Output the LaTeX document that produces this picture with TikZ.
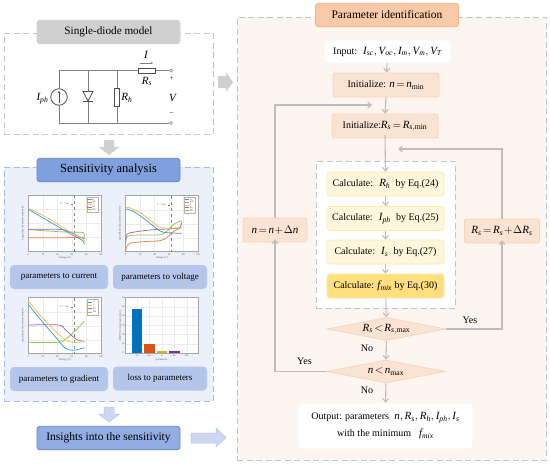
\documentclass[tikz,border=0pt]{standalone}
\usepackage{fontspec}
\setmainfont{Liberation Serif}
\usetikzlibrary{arrows.meta,shapes.geometric,calc}
\definecolor{graybox}{HTML}{D0D0D0}
\definecolor{graydash}{HTML}{C4C4C4}
\definecolor{wire}{HTML}{7F7F7F}
\definecolor{bluehead}{HTML}{7F9FDD}
\definecolor{blueedge}{HTML}{5F86D0}
\definecolor{bluepanel}{HTML}{EBF0FA}
\definecolor{bluedash}{HTML}{A3BCE6}
\definecolor{bluelabel}{HTML}{B4C6E9}
\definecolor{bluearrow}{HTML}{CBD8F0}
\definecolor{orpanel}{HTML}{FDF5EF}
\definecolor{orhead}{HTML}{F8CBA8}
\definecolor{oredge}{HTML}{F4B183}
\definecolor{orbox}{HTML}{FBE3D3}
\definecolor{oredgel}{HTML}{F8D3B8}
\definecolor{yelbox}{HTML}{FFF6DC}
\definecolor{yeledge}{HTML}{FFE9A8}
\definecolor{yelstrong}{HTML}{FFDF7E}
\definecolor{link}{HTML}{BDBDBD}
\definecolor{cIs}{HTML}{3E9BD8}
\definecolor{cIph}{HTML}{E9824C}
\definecolor{cn}{HTML}{F4C04C}
\definecolor{cRs}{HTML}{A565B5}
\definecolor{cRh}{HTML}{8DC453}
\definecolor{bIs}{HTML}{0072BD}
\definecolor{bIph}{HTML}{D95319}
\definecolor{bn}{HTML}{E5A823}
\definecolor{bRs}{HTML}{7E2F8E}
\newcommand\fs[1]{\fontsize{#1}{#1}\selectfont}
\newcommand\mm[1]{{\fs{11}\thickmuskip=2.5mu\medmuskip=1mu$#1$}}
\newcommand\vs[2]{\mathit{#1}_{\mathit{#2}}}
\tikzset{
  titlebox/.style={draw=#1,rounded corners=3pt,line width=.8pt,minimum width=143pt,minimum height=23.5pt,inner sep=0pt,font=\fs{11.5}},
  sublabel/.style={fill=bluelabel,rounded corners=4pt,minimum height=24pt,inner sep=0pt,font=\fs{9}},
  flowbox/.style={fill=orbox,draw=oredgel,line width=.7pt,rounded corners=2pt,minimum height=24pt,inner sep=0pt,font=\fs{10}},
  calcbox/.style={fill=yelbox,draw=yeledge,line width=.7pt,rounded corners=3pt,minimum width=117pt,minimum height=24pt,inner sep=0pt,font=\fs{10}},
  whitebox/.style={fill=white,draw=orpanel!70!gray!20,line width=.6pt,rounded corners=4pt,inner sep=0pt,font=\fs{10}},
  testbox/.style={diamond,shape aspect=5.2,fill=orbox,draw=oredgel,line width=.7pt,minimum width=119pt,minimum height=23pt,inner sep=0pt,font=\fs{10}},
  linkline/.style={draw=link,line width=1.1pt,-{Straight Barb[length=3.5pt,width=6pt]}},
  wireline/.style={draw=wire,line width=.8pt},
  panel/.style={dash pattern=on 6pt off 3.5pt,line width=.8pt},
  lab/.style={inner sep=0pt,font=\fs{10}},
  tinytxt/.style={inner sep=0pt,font=\fs{2.6},text=black!65},
  axisbox/.style={draw=black!35,line width=.35pt},
  gridline/.style={draw=black!8,line width=.25pt},
  vline/.style={draw=black!50,line width=.3pt,dashed},
  curve/.style={draw=#1,line width=.75pt,smooth,line cap=round},
  legendbox/.style={draw=black!30,fill=white,line width=.25pt},
}
% grid, axes and marker of a plot, in 3x crop coordinates
\newcommand\axesbox[5]{% x0 y0 x1 y1 dash-x
  \foreach \i in {1,2,3,4}{
    \draw[gridline] ({#1+\i*(#3-#1)/5},#2) -- ({#1+\i*(#3-#1)/5},#4);
    \draw[gridline] (#1,{#2+\i*(#4-#2)/4}) -- (#3,{#2+\i*(#4-#2)/4});
  }
  \draw[axisbox] (#1,#2) rectangle (#3,#4);
  \draw[vline] (#5,#2) -- (#5,#4);
  \node[tinytxt,rotate=90] at ({#1-17},{(#2+#4)/2}) {Logarithm of absolute sensitivity};
  \node[tinytxt] at ({(#1+#3)/2},{#4+19}) {Voltage (V)};
  \foreach \v/\k in {0/0,20/1,40/2,60/3,80/4,100/5}
    \node[tinytxt] at ({#1+\k*(#3-#1)/5},{#4+8}) {\v};
  \node[tinytxt] at ({#5-30},{#2+27}) {V = Vop};
  \draw[draw=black!50,line width=.25pt] ({#5-10},{#2+27}) -- ({#5-5},{#2+27});
}
\newcommand\legendentry[4]{% x y colour label
  \draw[draw=#3,line width=.7pt] (#1,#2) -- ({#1+13},#2);
  \node[tinytxt,anchor=west] at ({#1+15},#2) {#4};
}
\begin{document}
\begin{tikzpicture}[x=1pt,y=-1pt]
\useasboundingbox (0,0) rectangle (550,464);
\fill[white] (0,0) rectangle (550,464);

% ---------- panels
\node[panel,draw=graydash,fill=white,minimum width=209pt,minimum height=101pt,inner sep=0pt] (modelpanel) at (108.5,83.5) {};
\node[panel,draw=bluedash,fill=bluepanel,minimum width=209pt,minimum height=234pt,inner sep=0pt] (senspanel) at (108.5,284) {};
\node[panel,draw=graydash,fill=orpanel,minimum width=309.5pt,minimum height=443pt,inner sep=0pt] (idpanel) at (392,238.5) {};

% ---------- titles
\node[titlebox=graybox,fill=graybox,font=\fs{11.2}] (modeltitle) at (108.5,32) {Single-diode model};
\node[titlebox=blueedge,fill=bluehead,font=\fs{12.5}] (senstitle) at (108.5,170) {Sensitivity analysis};
\node[titlebox=blueedge,fill=bluehead!85!white] (insights) at (108.5,438) {Insights into the sensitivity};
\node[titlebox=oredge,fill=orhead] (idtitle) at (387,15) {Parameter identification};

% ---------- circuit
\coordinate (tl) at (59,70.5); \coordinate (bl) at (59,123);
\node[draw=wire,line width=.7pt,fill=white,circle,inner sep=0pt,minimum size=3pt] (tt) at (171,70.5) {};
\node[draw=wire,line width=.7pt,fill=white,circle,inner sep=0pt,minimum size=3pt] (bt) at (171,123) {};
\node[draw=black!70,line width=.8pt,circle,minimum size=16.5pt,inner sep=0pt] (src) at (59,97) {};
\node[draw=black!70,line width=.8pt,fill=white,minimum width=17pt,minimum height=5pt,inner sep=0pt] (rs) at (147,70.5) {};
\node[draw=black!70,line width=.8pt,fill=white,minimum width=5pt,minimum height=18pt,inner sep=0pt] (rh) at (117,97) {};
\draw[wireline] (src.north) -- (tl) -- (rs.west);
\draw[wireline] (rs.east) -- (tt.west);
\draw[wireline] (src.south) -- (bl) -- (bt.west);
\draw[wireline] (117,70.5) -- (rh.north);
\draw[wireline] (rh.south) -- (117,123);
\draw[wireline] (88,70.5) -- (88,123);
\draw[wireline,fill=white,draw=black!70] (83,91.5) -- (93,91.5) -- (88,101) -- cycle;
\draw[draw=black!70,line width=.8pt] (83,101.5) -- (93,101.5);
\draw[draw=black!70,line width=.7pt,-{Stealth[length=2.5pt,width=2.5pt]}] (59,103) -- (59,91);
\draw[draw=black!50,line width=.5pt,-{Stealth[length=2pt,width=2pt]}] (140,63) -- (153,63);
\node[inner sep=0pt] at (146,54.5) {\mm{\mathit{I}}};
\node[inner sep=0pt] at (147,81.5) {\mm{\vs{R}{s}}};
\node[inner sep=0pt] at (42.5,98.5) {\mm{\vs{I}{ph}}};
\node[inner sep=0pt] at (127,98) {\mm{\vs{R}{h}}};
\node[inner sep=0pt] at (172.5,97.5) {\mm{\mathit{V}}};
\node[inner sep=0pt,font=\fs{7}] at (171.5,79) {+};
\node[inner sep=0pt,font=\fs{7}] at (171.5,113.5) {--};

% ---------- block arrows
\fill[fill=graybox] (104,140) -- (114,140) -- (114,147) -- (119.5,147) -- (109,155) -- (98.5,147) -- (104,147) -- cycle;
\fill[fill=graybox] (218,76) -- (226,76) -- (226,72) -- (233,82) -- (226,92) -- (226,88) -- (218,88) -- cycle;
\filldraw[fill=bluearrow,draw=bluelabel,line width=.5pt] (104,407) -- (114,407) -- (114,414) -- (119.5,414) -- (109,422) -- (98.5,414) -- (104,414) -- cycle;
\filldraw[fill=bluearrow,draw=bluelabel,line width=.5pt] (191,433) -- (216,433) -- (216,428) -- (226,437.5) -- (216,447) -- (216,443) -- (191,443) -- cycle;

% ---------- sub-labels
\node[sublabel,minimum width=98pt] (lb1) at (59,277) {parameters to current};
\node[sublabel,minimum width=94pt] (lb2) at (160,277) {parameters to voltage};
\node[sublabel,minimum width=98pt] (lb3) at (59,379) {parameters to gradient};
\node[sublabel,minimum width=94pt] (lb4) at (160,378.5) {loss to parameters};

% ---------- plot 1
\begin{scope}[shift={(15,190)},x=.33333pt,y=-.33333pt]
  \fill[white] (40,15) rectangle (258,185);
  \axesbox{40}{15}{258}{185}{178}
  \draw[curve=cIph] plot coordinates {(40,143) (120,143) (200,143) (208,146)};
  \draw[curve=cRh] plot coordinates {(40,119) (100,123) (150,126) (200,127) (207,131) (208,140)};
  \draw[curve=cRs] plot coordinates {(40,118) (130,118) (160,124) (190,139) (208,145)};
  \draw[curve=cn] plot coordinates {(40,55) (100,85) (160,122) (190,138) (205,147) (208,156)};
  \draw[curve=cIs] plot coordinates {(40,58) (100,93) (160,128) (190,144) (203,152) (208,162)};
  \draw[legendbox] (215,22) rectangle (248,65);
  \legendentry{217}{29}{cIs}{Is}\legendentry{217}{36}{cIph}{Iph}\legendentry{217}{43}{cn}{n}\legendentry{217}{51}{cRs}{Rs}\legendentry{217}{58}{cRh}{Rh}
\end{scope}
% ---------- plot 2
\begin{scope}[shift={(110,190)},x=.33333pt,y=-.33333pt]
  \fill[white] (47,17) rectangle (264,185);
  \axesbox{47}{17}{264}{185}{184}
  \draw[curve=cIph] plot coordinates {(47,185) (50,170) (60,160) (100,155) (150,152) (170,143) (190,125) (215,112)};
  \draw[curve=cRh] plot coordinates {(47,160) (52,140) (80,135) (150,134) (175,120) (190,103) (215,92)};
  \draw[curve=cRs] plot coordinates {(47,150) (52,132) (80,125) (130,119) (190,116) (210,112) (215,98)};
  \draw[curve=cn] plot coordinates {(47,55) (55,52) (90,68) (120,90) (145,110) (170,115) (215,113)};
  \draw[curve=cIs] plot coordinates {(47,60) (52,57) (80,70) (120,100) (150,123) (170,128) (215,130)};
  \draw[legendbox] (222,22) rectangle (254,68);
  \legendentry{224}{29}{cIs}{Is}\legendentry{224}{37}{cIph}{Iph}\legendentry{224}{45}{cn}{n}\legendentry{224}{53}{cRs}{Rs}\legendentry{224}{61}{cRh}{Rh}
\end{scope}
% ---------- plot 3
\begin{scope}[shift={(15,292)},x=.33333pt,y=-.33333pt]
  \fill[white] (40,17) rectangle (258,185);
  \axesbox{40}{17}{258}{185}{178}
  \draw[curve=cRh] plot coordinates {(40,151) (130,151) (150,143) (180,117) (208,88)};
  \draw[curve=cRs] plot coordinates {(40,99) (130,99) (150,112) (175,135) (190,145) (208,148)};
  \draw[curve=cn] plot coordinates {(40,27) (80,75) (140,135) (165,150) (190,151) (208,148)};
  \draw[curve=cIs] plot coordinates {(40,37) (70,75) (130,145) (150,168) (175,175) (208,167)};
  \draw[legendbox] (217,22) rectangle (250,68);
  \legendentry{219}{30}{cIs}{Is}\legendentry{219}{40}{cn}{n}\legendentry{219}{50}{cRs}{Rs}\legendentry{219}{60}{cRh}{Rh}
\end{scope}
% ---------- plot 4
\begin{scope}[shift={(110,292)},x=.33333pt,y=-.33333pt]
  \fill[white] (47,17) rectangle (264,183);
  \foreach \i in {1,...,5} \draw[gridline] (47,{17+\i*166/6}) -- (264,{17+\i*166/6});
  \foreach \i in {82,118,155,193,230} \draw[gridline] (\i,17) -- (\i,183);
  \fill[fill=bIs] (67,51) rectangle (97,183);
  \fill[fill=bIph] (103,155) rectangle (134,183);
  \fill[fill=bn] (140,177) rectangle (171,183);
  \fill[fill=bRs] (178,178) rectangle (209,183);
  \fill[fill=cRh] (215,182) rectangle (246,183);
  \draw[axisbox] (47,17) rectangle (264,183);
  \node[tinytxt,rotate=90] at (31,100) {RMSE of relative sensitivity};
  \node[tinytxt] at (155,204) {parameters};
  \foreach \t/\p in {Is/82,Iph/118,n/155,Rs/193,Rh/230} \node[tinytxt] at (\p,191) {\t};
  \foreach \v/\k in {0/0,10/1,20/2,30/3,40/4,50/5,60/6} \node[tinytxt] at (40,{183-\k*166/6}) {\v};
\end{scope}

% ---------- flow
\node[whitebox,minimum width=127pt,minimum height=23pt] (input) at (387.5,51.5) {Input:\; \mm{\vs{I}{sc},\vs{V}{oc},\vs{I}{m},\vs{V}{m},\vs{V}{T}}};
\node[flowbox,minimum width=106pt] (initn) at (386,85) {Initialize: \mm{\mathit{n}=\mathit{n}_{\mathrm{min}}}};
\node[flowbox,minimum width=106pt] (initr) at (385,126) {Initialize:\mm{\vs{R}{s}=\mathit{R}_{\mathit{s},\mathrm{min}}}};
\node[panel,draw=graydash,fill=white,minimum width=139pt,minimum height=147pt,inner sep=0pt] (calcpanel) at (385.5,234.5) {};
\node[calcbox] (calcrh) at (385.5,184) {Calculate:\; \mm{\vs{R}{h}}\; by Eq.(24)};
\node[calcbox] (calciph) at (385.5,218.5) {Calculate:\; \mm{\vs{I}{ph}}\; by Eq.(25)};
\node[calcbox] (calcis) at (385.5,252) {Calculate:\; \mm{\vs{I}{s}}\; by Eq.(27)};
\node[calcbox,fill=yelstrong] (calcf) at (385.5,286) {Calculate: \mm{\vs{f}{mix}} by Eq.(30)};
\node[testbox] (testr) at (386.5,329) {\mm{\vs{R}{s}<\mathit{R}_{\mathit{s},\mathrm{max}}}};
\node[testbox] (testn) at (386,371.5) {\mm{\mathit{n}<\mathit{n}_{\mathrm{max}}}};
\node[whitebox,minimum width=175pt,minimum height=46pt,align=center] (output) at (385.5,426) {\fontsize{10}{12}\selectfont Output: parameters\; \mm{\mathit{n},\vs{R}{s},\vs{R}{h},\vs{I}{ph},\vs{I}{s}}\\[5pt] \fontsize{10}{12}\selectfont with the minimum\;\; \mm{\vs{f}{mix}}};
\node[flowbox,minimum width=64pt] (incn) at (275,230) {\mm{\mathit{n}=\mathit{n}+\Delta\mathit{n}}};
\node[flowbox,minimum width=75pt] (incr) at (502,231) {\mm{\vs{R}{s}=\vs{R}{s}+\Delta\vs{R}{s}}};

\coordinate (nentry) at (372,105);
\coordinate (rentry) at (398,149);
\draw[linkline] (input) -- (initn);
\draw[linkline] (initn.south) -- (initr.north);
\draw[linkline] ([yshift=3pt]initr.south) -- (calcrh.north);
\draw[linkline] (calcrh) -- (calciph);
\draw[linkline] (calciph) -- (calcis);
\draw[linkline] (calcis) -- (calcf);
\draw[linkline] (calcf) -- (testr);
\draw[linkline] (testr.south) -- (testn.north);
\draw[linkline] (testn.south) -- (output.north);
\draw[linkline] (testr.east) -| ([yshift=3pt]incr.south);
\draw[linkline] (incr.north) |- (rentry);
\draw[linkline] (testn.west) -| ([yshift=3pt]incn.south);
\draw[linkline] (incn.north) |- (nentry);
\node[lab] at (470,320) {Yes};
\node[lab] at (367,348.5) {No};
\node[lab] at (304.5,361) {Yes};
\node[lab] at (367,390.5) {No};
\end{tikzpicture}
\end{document}
